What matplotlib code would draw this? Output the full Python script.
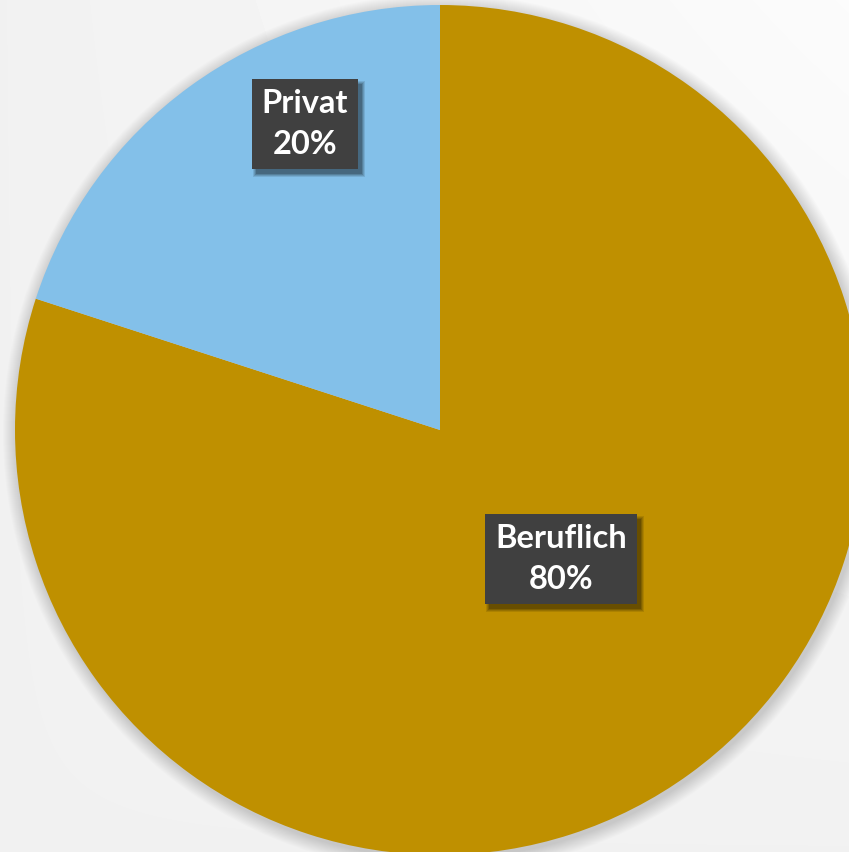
import numpy as np
import matplotlib.pyplot as plt
from matplotlib.patches import Circle, Rectangle

# data
categories = ['Beruflich', 'Privat']
shares = [80, 20]
colors = ['#BF9000', '#83C0E9']

# label positions as fraction of the radius, relative to the pie centre
label_offsets = {'Beruflich': (0.285, -0.304), 'Privat': (-0.318, 0.720)}

W, H = 849, 852
fig = plt.figure(figsize=(W / 100, H / 100), dpi=100, facecolor='#f2f2f2')
ax = fig.add_axes([0, 0, 1, 1])

# soft background gradient, lighter towards the upper right
yy, xx = np.mgrid[0:H, 0:W]
bg = 0.945 + 0.04 * (xx / W) * (1 - yy / H)
ax.imshow(bg, cmap='gray', vmin=0, vmax=1, extent=(0, W, 0, H),
          origin='upper', zorder=0, interpolation='bilinear')

cx, cy, r = 440, H - 430, 425

# blurred shadow around the pie
for k in range(14):
    ax.add_patch(Circle((cx + 2, cy - 3), r + 14 - k, facecolor='#000000',
                        alpha=0.012, edgecolor='none', zorder=1))

ax.pie(shares, colors=colors, startangle=90, counterclock=False,
       center=(cx, cy), radius=r, frame=True,
       wedgeprops=dict(linewidth=0, zorder=2))

ax.set_xlim(0, W)
ax.set_ylim(0, H)
ax.set_aspect('equal')
ax.axis('off')

labels = []
for name, share in zip(categories, shares):
    fx, fy = label_offsets[name]
    t = ax.text(cx + fx * r, cy + fy * r, f'{name}\n{share}%',
                ha='center', va='center', fontsize=23.5, fontweight='bold',
                family='Lato', color='white', linespacing=1.5, zorder=6,
                bbox=dict(boxstyle='square,pad=0.3', facecolor='#404040',
                          edgecolor='none', linewidth=0))
    labels.append(t)

# shadow and dotted texture for the label boxes
fig.canvas.draw()
renderer = fig.canvas.get_renderer()
for t in labels:
    ext = t.get_bbox_patch().get_window_extent(renderer)
    x0, y0, w, h = ext.x0, ext.y0, ext.width, ext.height
    for k, a in enumerate([0.10, 0.12, 0.15, 0.18]):
        g = 3 - k
        ax.add_patch(Rectangle((x0 + 4 - g, y0 - 5 - g), w + 2 * g, h + 2 * g,
                               transform=None, facecolor='black',
                               edgecolor='none', alpha=a, zorder=4))
    gx = np.arange(x0 + 3, x0 + w - 1, 6.5)
    gy = np.arange(y0 + 3, y0 + h - 1, 6.5)
    px, py = np.meshgrid(gx, gy)
    ax.scatter(px.ravel(), py.ravel(), s=3.5, marker='s', color='#595959',
               linewidths=0, transform=None, zorder=5.5)
    t.get_bbox_patch().set_zorder(5)

fig.savefig('out.png', dpi=100, facecolor=fig.get_facecolor())
